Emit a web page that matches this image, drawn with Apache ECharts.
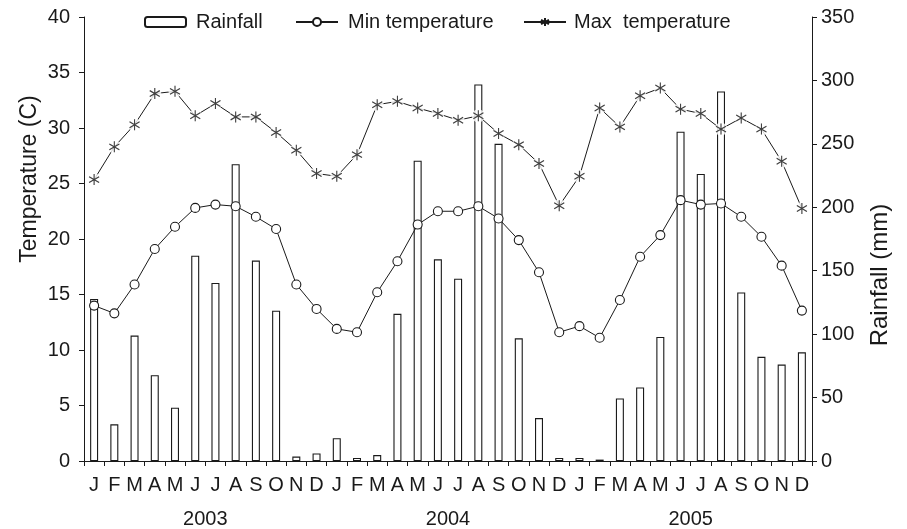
<!DOCTYPE html>
<html>
<head>
<meta charset="utf-8">
<script src="https://cdn.jsdelivr.net/npm/echarts@6/dist/echarts.min.js"></script>
<style>
html,body{margin:0;padding:0;background:#fff;}
#c{width:907px;height:529px;}
</style>
</head>
<body>
<div id="c"></div>
<script>
// ---- data ----
var monthKeys = [
  '2003-01','2003-02','2003-03','2003-04','2003-05','2003-06','2003-07','2003-08','2003-09','2003-10','2003-11','2003-12',
  '2004-01','2004-02','2004-03','2004-04','2004-05','2004-06','2004-07','2004-08','2004-09','2004-10','2004-11','2004-12',
  '2005-01','2005-02','2005-03','2005-04','2005-05','2005-06','2005-07','2005-08','2005-09','2005-10','2005-11','2005-12'
];
var monthLetters = ['J','F','M','A','M','J','J','A','S','O','N','D'];
var years = ['2003','2004','2005'];

var rainfall = [127.7, 28.9, 98.9, 67.6, 42.0, 161.8, 140.3, 234.0, 158.0, 118.5, 3.5, 6.0,
                18.0, 2.4, 4.7, 116.0, 236.7, 159.0, 143.7, 296.8, 250.0, 96.7, 33.8, 2.4,
                2.4, 1.1, 49.3, 58.0, 97.8, 259.6, 226.3, 291.3, 132.9, 82.1, 76.0, 85.7];
var minTemp = [14.0, 13.3, 15.9, 19.1, 21.1, 22.8, 23.1, 22.95, 22.0, 20.9, 15.9, 13.7,
               11.9, 11.6, 15.2, 18.0, 21.3, 22.5, 22.5, 22.95, 21.85, 19.9, 17.0, 11.6,
               12.15, 11.1, 14.5, 18.4, 20.35, 23.5, 23.1, 23.2, 22.0, 20.2, 17.6, 13.55];
var maxTemp = [25.35, 28.3, 30.3, 33.1, 33.3, 31.1, 32.2, 31.0, 31.0, 29.6, 28.0, 25.9,
               25.65, 27.6, 32.1, 32.4, 31.8, 31.3, 30.7, 31.1, 29.5, 28.5, 26.8, 23.0,
               25.65, 31.8, 30.1, 32.9, 33.6, 31.7, 31.3, 29.9, 30.9, 29.9, 27.0, 22.75];

// ---- chart ----
var ink = '#1a1a1a';
var font = 'Liberation Sans, Arial, Helvetica, sans-serif';
var asterisk = 'path://M5,0L5,10M0.5,2.3L9.5,7.7M0.5,7.7L9.5,2.3';

var chart = echarts.init(document.getElementById('c'), null, {renderer: 'canvas'});
chart.setOption({
  animation: false,
  backgroundColor: '#fff',
  textStyle: {fontFamily: font, color: ink},
  grid: {left: 84, right: 95, top: 17, bottom: 67, containLabel: false},
  legend: [
    {data: ['Rainfall'], left: 139, top: 7, itemWidth: 41, itemHeight: 10, itemGap: 0,
     textStyle: {fontSize: 20, color: ink, fontFamily: font, padding: [0,0,0,5]}},
    {data: ['Min temperature'], left: 290, top: 7, itemWidth: 42, itemHeight: 10, itemGap: 0,
     textStyle: {fontSize: 20, color: ink, fontFamily: font, padding: [0,0,0,5]}},
    {data: ['Max  temperature'], left: 518, top: 7, itemWidth: 42, itemHeight: 10, itemGap: 0,
     textStyle: {fontSize: 20, color: ink, fontFamily: font, padding: [0,0,0,3]}}
  ],
  xAxis: [
    {type: 'category', data: monthKeys, boundaryGap: true, position: 'bottom',
     axisLine: {show: true, lineStyle: {color: ink, width: 1}},
     axisTick: {show: true, interval: 0, length: 5, inside: false, lineStyle: {color: ink}},
     axisLabel: {interval: 0, margin: 14, fontSize: 20, color: ink, fontFamily: font,
       formatter: function (v, i) { return monthLetters[i % 12]; }},
     splitLine: {show: false}},
    {type: 'category', data: years, position: 'bottom', offset: 0,
     axisLine: {show: false}, axisTick: {show: false},
     axisLabel: {interval: 0, margin: 48, fontSize: 20, color: ink, fontFamily: font},
     splitLine: {show: false}}
  ],
  yAxis: [
    {type: 'value', min: 0, max: 40, interval: 5, position: 'left',
     axisLine: {show: true, lineStyle: {color: ink, width: 1}},
     axisTick: {show: true, length: 5, lineStyle: {color: ink}},
     axisLabel: {margin: 14, fontSize: 20, color: ink, fontFamily: font},
     splitLine: {show: false}},
    {type: 'value', min: 0, max: 350, interval: 50, position: 'right',
     axisLine: {show: true, lineStyle: {color: ink, width: 1}},
     axisTick: {show: true, length: 5, lineStyle: {color: ink}},
     axisLabel: {margin: 9, fontSize: 20, color: ink, fontFamily: font},
     splitLine: {show: false}}
  ],
  graphic: [
    {type: 'text', x: 30, y: 179, rotation: Math.PI / 2,
     style: {text: 'Temperature (C)', font: '23px ' + font, fill: ink, align: 'center', verticalAlign: 'middle'}},
    {type: 'text', x: 880, y: 275, rotation: Math.PI / 2,
     style: {text: 'Rainfall (mm)', font: '24px ' + font, fill: ink, align: 'center', verticalAlign: 'middle'}}
  ],
  series: [
    {name: 'Rainfall', type: 'bar', xAxisIndex: 0, yAxisIndex: 1, data: rainfall, barWidth: 8, z: 2,
     itemStyle: {color: '#fff', borderColor: ink, borderWidth: 1.1}},
    {name: 'Min temperature', type: 'line', xAxisIndex: 0, yAxisIndex: 0, data: minTemp, z: 3,
     symbol: 'circle', symbolSize: 9, showAllSymbol: true,
     lineStyle: {color: ink, width: 1}, itemStyle: {color: '#fff', borderColor: ink, borderWidth: 1.1}},
    {name: 'Max  temperature', type: 'line', xAxisIndex: 0, yAxisIndex: 0, data: maxTemp, z: 3,
     symbol: asterisk, symbolSize: [10, 11], showAllSymbol: true,
     lineStyle: {color: ink, width: 1}, itemStyle: {color: 'rgba(0,0,0,0)', borderColor: ink, borderWidth: 1.1}},
    {name: 'maxGap', type: 'scatter', xAxisIndex: 0, yAxisIndex: 0, data: maxTemp, z: 4, silent: true,
     symbol: 'circle', symbolSize: 13, itemStyle: {color: '#fff', borderWidth: 0}},
    {name: 'maxMark', type: 'scatter', xAxisIndex: 0, yAxisIndex: 0, data: maxTemp, z: 5, silent: true,
     symbol: asterisk, symbolSize: [10, 11],
     itemStyle: {color: 'rgba(0,0,0,0)', borderColor: ink, borderWidth: 1.1}}
  ]
});
</script>
</body>
</html>
